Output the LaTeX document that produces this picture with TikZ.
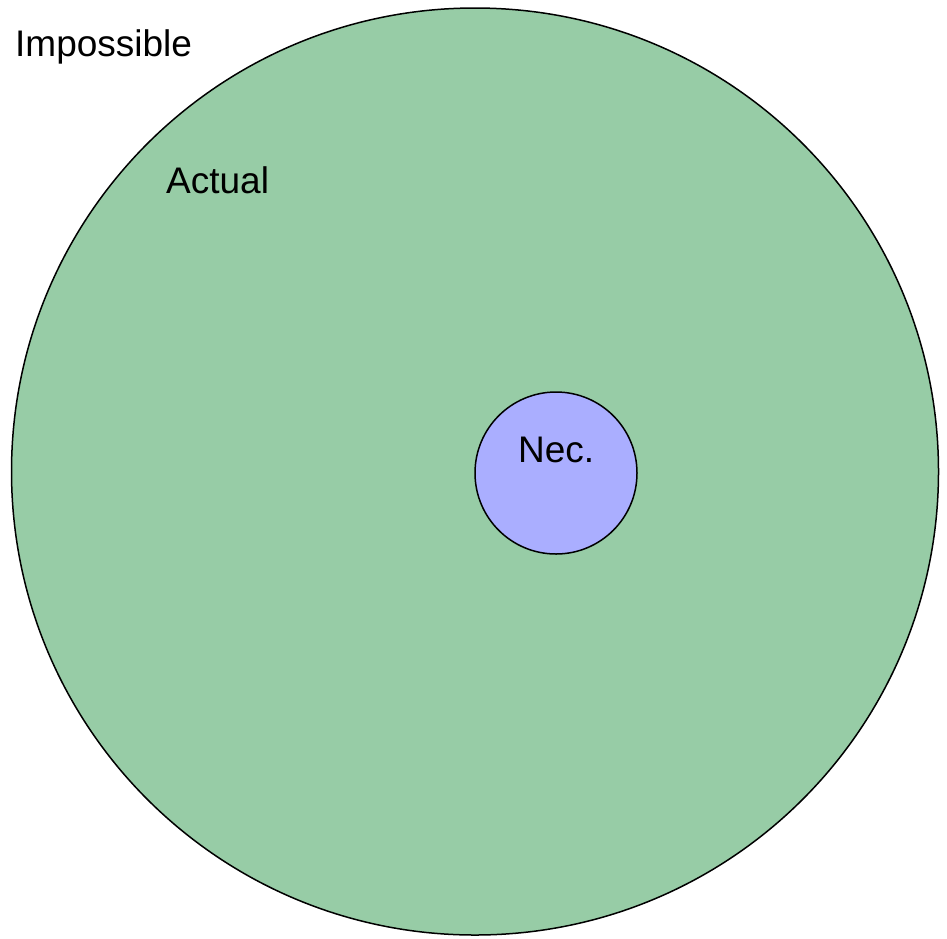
\documentclass[tikz,border=0pt]{standalone}
\usepackage{fontspec}
\setmainfont{Liberation Sans}
\definecolor{actualgreen}{HTML}{97CCA6}
\definecolor{necblue}{HTML}{AAAEFF}
\tikzset{
  region/.style={circle, draw=black, line width=1.5pt, inner sep=0pt},
  lbl/.style={font=\fontsize{37}{41}\selectfont, anchor=base west, inner sep=0pt}
}
\begin{document}
\begin{tikzpicture}[x=1pt,y=-1pt]
\useasboundingbox (0,0) rectangle (947,938);
\node[region, fill=actualgreen, minimum size=927pt] (actual) at (475,471.5) {};
\node[region, fill=necblue, minimum size=162pt] (nec) at (556,473) {};
\node[lbl] (imp) at (15,56) {Impossible};
\node[lbl] (act) at (166,193) {Actual};
\node[lbl] (nect) at (518,462) {Nec.};
\end{tikzpicture}
\end{document}
